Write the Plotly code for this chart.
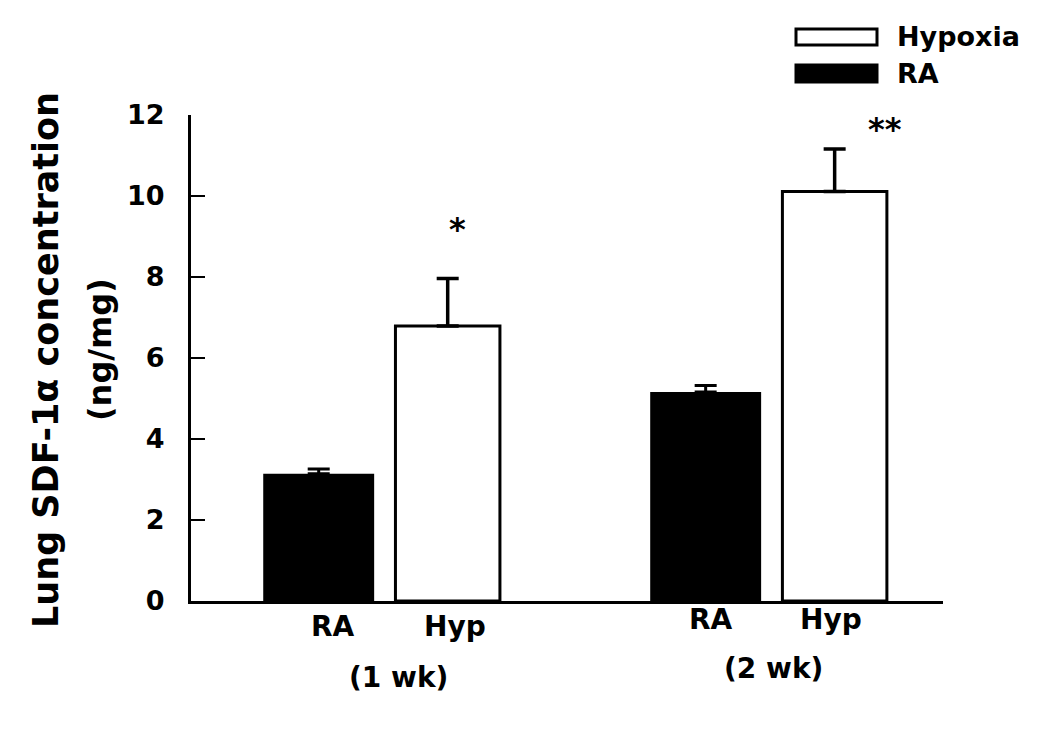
import plotly.graph_objects as go

# ---- data ----
groups = ["(1 wk)", "(2 wk)"]
bar_labels = ["RA", "Hyp"]
ra_mean = [3.14, 5.16]
ra_sem = [0.12, 0.16]
hyp_mean = [6.79, 10.11]
hyp_sem = [1.17, 1.05]
signif = ["*", "**"]
y_ticks = [0, 2, 4, 6, 8, 10, 12]

# ---- layout geometry (screen pixels; page body has an 8px margin) ----
OFF = 8
W, H = 1034, 718
PLOT_LEFT, PLOT_RIGHT, PLOT_TOP, PLOT_BOTTOM = 191, 943, 115, 601  # screen px
L = PLOT_LEFT - OFF
T = PLOT_TOP - OFF
R = W - (PLOT_RIGHT - OFF)
B = H - (PLOT_BOTTOM - OFF)
PW, PH = PLOT_RIGHT - PLOT_LEFT, PLOT_BOTTOM - PLOT_TOP

def px_x(px):
    return (px - PLOT_LEFT) / PW

def px_y(py):
    return (PLOT_BOTTOM - py) / PH

FONT = "DejaVu Sans"
ra_x = [3 * i for i in range(len(groups))]
hyp_x = [3 * i + 1 for i in range(len(groups))]

fig = go.Figure()
fig.add_trace(go.Bar(
    x=ra_x, y=ra_mean, width=0.86, name="RA",
    marker=dict(color="black", line=dict(color="black", width=0)),
    error_y=dict(type="data", array=ra_sem, arrayminus=[0] * len(ra_sem), symmetric=False,
                 color="black", thickness=3, width=11),
    showlegend=False,
))
fig.add_trace(go.Bar(
    x=hyp_x, y=hyp_mean, width=0.81, name="Hypoxia",
    marker=dict(color="white", line=dict(color="black", width=3)),
    error_y=dict(type="data", array=hyp_sem, arrayminus=[0] * len(hyp_sem), symmetric=False,
                 color="black", thickness=3.5, width=11),
    showlegend=False,
))

annotations = []

def add_text(text, sx, sy, size, weight="bold", angle=0, xanchor="center"):
    annotations.append(dict(text=text, x=px_x(sx), y=px_y(sy), xref="paper", yref="paper",
                            xanchor=xanchor, yanchor="middle", textangle=angle, showarrow=False,
                            font=dict(family=FONT, size=size, color="black", weight=weight)))

# significance stars
star_px = [(457, 229), (885, 129)]
for s, (sx, sy) in zip(signif, star_px):
    add_text(s, sx, sy, 32)

# x labels
row1_px = [(333, 626), (455, 626), (711, 619), (831, 619)]
lab_list = bar_labels * len(groups)
for t, (lx, ly) in zip(lab_list, row1_px):
    add_text(t, lx, ly, 28)
row2_px = [(398, 677), (773, 668)]
for t, (lx, ly) in zip(groups, row2_px):
    add_text(t, lx, ly, 28)

# y-axis title (two lines)
add_text("Lung SDF-1α concentration", 46, 360, 35, angle=-90)
add_text("(ng/mg)", 100, 350, 32, angle=-90)

# legend
leg = [("Hypoxia", "white", 29, 45), ("RA", "black", 65, 82)]
shapes = []
for name, col, y0, y1 in leg:
    shapes.append(dict(type="rect", xref="paper", yref="paper",
                       x0=px_x(796), x1=px_x(877), y0=px_y(y1), y1=px_y(y0),
                       fillcolor=col, line=dict(color="black", width=3)))
    add_text(name, 895, (y0 + y1) / 2, 27, xanchor="left")

fig.update_layout(
    width=W, height=H,
    margin=dict(l=L, r=R, t=T, b=B),
    paper_bgcolor="white", plot_bgcolor="white",
    barmode="overlay",
    annotations=annotations, shapes=shapes,
    xaxis=dict(range=[-0.99, 4.84], showline=True, linecolor="black", linewidth=3,
               showticklabels=False, ticks="", showgrid=False, zeroline=False),
    yaxis=dict(range=[0, 12], tickvals=y_ticks, showline=True, linecolor="black", linewidth=3,
               ticks="inside", ticklen=14, tickwidth=2, tickcolor="black",
               showgrid=False, zeroline=False, ticklabelstandoff=18,
               tickfont=dict(family=FONT, size=27, color="black", weight="bold")),
)

fig.write_html("out.html")
